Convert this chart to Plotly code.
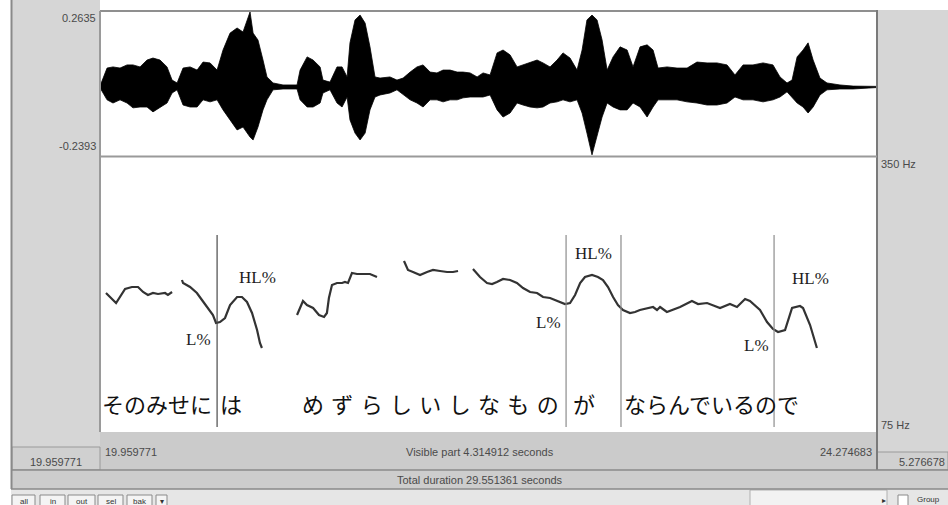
import plotly.graph_objects as go

W, H = 948, 505

# Time window and axis ranges
T_START, T_END = 19.959771, 24.274683
AMP_MIN, AMP_MAX = -0.2393, 0.2635
HZ_MIN, HZ_MAX = 75, 350

# Waveform envelope (seconds, upper / lower amplitude)
wave_t = [19.960, 19.999, 20.032, 20.071, 20.110, 20.143, 20.182, 20.221, 20.254, 20.293,
          20.332, 20.360, 20.388, 20.421, 20.460, 20.499, 20.532, 20.571, 20.610, 20.643,
          20.682, 20.721, 20.754, 20.793, 20.810, 20.837, 20.865, 20.887, 20.921, 20.976,
          21.054, 21.071, 21.110, 21.143, 21.182, 21.198, 21.237, 21.276, 21.304, 21.332,
          21.348, 21.376, 21.404, 21.432, 21.459, 21.487, 21.515, 21.570, 21.609, 21.643,
          21.682, 21.720, 21.754, 21.793, 21.831, 21.865, 21.904, 21.943, 21.976, 22.015,
          22.054, 22.087, 22.126, 22.165, 22.198, 22.237, 22.276, 22.309, 22.348, 22.387,
          22.420, 22.459, 22.498, 22.531, 22.570, 22.609, 22.637, 22.664, 22.692, 22.720,
          22.748, 22.776, 22.809, 22.848, 22.887, 22.920, 22.959, 22.998, 23.031, 23.059,
          23.109, 23.164, 23.220, 23.275, 23.331, 23.386, 23.442, 23.486, 23.531, 23.586,
          23.642, 23.697, 23.736, 23.775, 23.803, 23.831, 23.864, 23.892, 23.920, 23.958,
          23.997, 24.069, 24.142, 24.253, 24.274]
wave_hi = [0.003, 0.066, 0.070, 0.066, 0.077, 0.077, 0.070, 0.094, 0.101, 0.094,
           0.070, 0.024, 0.014, 0.066, 0.070, 0.059, 0.087, 0.084, 0.059, 0.129,
           0.188, 0.206, 0.192, 0.262, 0.188, 0.164, 0.094, 0.035, 0.014, 0.007,
           0.007, 0.059, 0.105, 0.094, 0.070, 0.024, 0.017, 0.070, 0.070, 0.035,
           0.154, 0.234, 0.251, 0.223, 0.140, 0.035, 0.031, 0.035, 0.024, 0.031,
           0.052, 0.070, 0.077, 0.052, 0.049, 0.059, 0.059, 0.052, 0.052, 0.049,
           0.035, 0.049, 0.042, 0.119, 0.129, 0.112, 0.070, 0.077, 0.087, 0.094,
           0.084, 0.070, 0.094, 0.119, 0.101, 0.059, 0.129, 0.234, 0.251, 0.234,
           0.164, 0.059, 0.105, 0.140, 0.129, 0.070, 0.140, 0.147, 0.129, 0.066,
           0.070, 0.066, 0.066, 0.087, 0.084, 0.084, 0.077, 0.042, 0.077, 0.077,
           0.084, 0.077, 0.035, 0.014, 0.024, 0.105, 0.129, 0.154, 0.094, 0.031,
           0.014, 0.007, 0.003, 0.003, 0.002]
wave_lo = [-0.003, -0.045, -0.056, -0.045, -0.056, -0.073, -0.070, -0.070, -0.087, -0.073,
           -0.056, -0.021, -0.010, -0.063, -0.070, -0.070, -0.045, -0.052, -0.045, -0.080,
           -0.115, -0.150, -0.140, -0.175, -0.185, -0.140, -0.080, -0.045, -0.010, -0.007,
           -0.007, -0.045, -0.070, -0.070, -0.056, -0.021, -0.010, -0.056, -0.070, -0.035,
           -0.115, -0.161, -0.185, -0.161, -0.080, -0.035, -0.028, -0.021, -0.010, -0.028,
           -0.045, -0.056, -0.070, -0.045, -0.045, -0.052, -0.045, -0.045, -0.038, -0.035,
           -0.035, -0.035, -0.028, -0.080, -0.105, -0.091, -0.056, -0.063, -0.070, -0.073,
           -0.070, -0.056, -0.052, -0.045, -0.052, -0.045, -0.091, -0.161, -0.237, -0.175,
           -0.105, -0.056, -0.070, -0.080, -0.080, -0.056, -0.070, -0.105, -0.070, -0.045,
           -0.045, -0.045, -0.052, -0.056, -0.063, -0.063, -0.056, -0.035, -0.045, -0.045,
           -0.052, -0.045, -0.035, -0.017, -0.035, -0.056, -0.070, -0.091, -0.070, -0.028,
           -0.010, -0.007, -0.007, -0.003, -0.002]

# Pitch contour (seconds, Hz), one list per voiced stretch
pitch1_t = [19.993, 20.049, 20.099, 20.137, 20.171, 20.199, 20.226, 20.254, 20.282, 20.321, 20.337, 20.360]
pitch1_hz = [214, 204, 218, 220, 220, 215, 212, 214, 213, 214, 212, 215]

pitch2_t = [20.415, 20.421, 20.460, 20.498, 20.526, 20.560, 20.587, 20.604, 20.626, 20.654,
            20.682, 20.721, 20.748, 20.776, 20.804, 20.832, 20.848, 20.859]
pitch2_hz = [227, 224, 220, 214, 207, 199, 192, 184, 185, 189, 202, 210, 210, 205, 194, 177, 164, 159]

pitch3_t = [21.054, 21.087, 21.109, 21.143, 21.176, 21.204, 21.220, 21.231, 21.248, 21.276,
            21.304, 21.320, 21.337, 21.359, 21.387, 21.420, 21.459, 21.498]
pitch3_hz = [192, 206, 202, 199, 192, 190, 194, 209, 222, 224, 224, 225, 224, 234, 233, 233, 233, 230]

pitch4_t = [21.648, 21.670, 21.698, 21.737, 21.776, 21.809, 21.848, 21.887, 21.920, 21.948]
pitch4_hz = [246, 237, 235, 232, 235, 237, 236, 235, 235, 236]

pitch5_t = [22.031, 22.070, 22.109, 22.137, 22.164, 22.198, 22.237, 22.275, 22.309, 22.348,
            22.387, 22.420, 22.459, 22.498, 22.542, 22.570, 22.598, 22.626, 22.653, 22.692,
            22.725, 22.753, 22.781, 22.809, 22.836, 22.864, 22.903, 22.931, 22.958, 23.031,
            23.053, 23.070, 23.108, 23.181, 23.247, 23.281, 23.331, 23.403, 23.458, 23.497,
            23.542, 23.569, 23.625, 23.664, 23.697, 23.725, 23.764, 23.803, 23.819, 23.847,
            23.864, 23.903, 23.941]
pitch5_hz = [238, 230, 224, 223, 225, 228, 227, 224, 219, 215,
             214, 210, 209, 206, 203, 204, 212, 224, 230, 232,
             230, 227, 220, 210, 202, 197, 194, 195, 197, 200,
             197, 200, 195, 200, 206, 203, 204, 199, 203, 200,
             208, 206, 197, 185, 178, 175, 177, 199, 200, 201,
             199, 182, 159]

# Interval boundaries on the annotation tier (seconds)
boundary_t = [20.610, 22.548, 22.853, 23.703]

# Boundary tone labels
tone_text = ["L%", "HL%", "L%", "HL%", "L%", "HL%"]
tone_t = [20.504, 20.832, 22.453, 22.698, 23.603, 23.903]
tone_hz = [168, 230, 185, 254, 162, 229]

# Text tier intervals (start time, text)
word_text = ["そのみせに", "は", "め\u2004ず\u2004ら\u2004し\u2004い\u2004し\u2004な\u2004も\u2004の",
             "が", "ならんでいるの", "で"]
word_t = [19.962, 20.616, 21.071, 22.573, 22.857, 23.708]


def px(x):
    return x / W


def py(y):
    return 1 - y / H


def rect(x0, y0, x1, y1, fill, line=None, lw=0):
    return dict(type="rect", xref="paper", yref="paper", layer="below",
                x0=px(x0), x1=px(x1), y0=py(y1), y1=py(y0),
                fillcolor=fill, line=dict(width=lw, color=line or fill))


def hline(x0, x1, y, color, w=1):
    return dict(type="line", xref="paper", yref="paper", layer="above",
                x0=px(x0), x1=px(x1), y0=py(y), y1=py(y), line=dict(color=color, width=w))


def vline(x, y0, y1, color, w=1):
    return dict(type="line", xref="paper", yref="paper", layer="above",
                x0=px(x), x1=px(x), y0=py(y0), y1=py(y1), line=dict(color=color, width=w))


def label(x, y, text, size=11, anchor="left", color="#4a4a4a", family="Liberation Sans"):
    return dict(xref="paper", yref="paper", x=px(x), y=py(y), text=text, showarrow=False,
                xanchor=anchor, yanchor="middle", font=dict(size=size, color=color, family=family))


fig = go.Figure()

# Waveform as a filled envelope
fig.add_trace(go.Scatter(
    x=wave_t + wave_t[::-1], y=wave_hi + wave_lo[::-1],
    fill="toself", fillcolor="#000000", mode="lines",
    line=dict(color="#000000", width=0.8), xaxis="x", yaxis="y", hoverinfo="skip"))

# Pitch contour
for t, hz in [(pitch1_t, pitch1_hz), (pitch2_t, pitch2_hz), (pitch3_t, pitch3_hz),
              (pitch4_t, pitch4_hz), (pitch5_t, pitch5_hz)]:
    fig.add_trace(go.Scatter(x=t, y=hz, mode="lines", xaxis="x", yaxis="y2",
                             line=dict(color="#333333", width=2.2), hoverinfo="skip"))

shapes = [
    # window chrome
    rect(11, 0, 100, 470, "#d6d6d6"),
    rect(877, 10, 948, 470, "#d6d6d6"),
    rect(100, 432, 877, 470, "#cbcbcb"),
    rect(12, 447, 100, 470, "#d0d0d0", "#9a9a9a", 1),
    rect(877, 452, 948, 470, "#d0d0d0", "#9a9a9a", 1),
    rect(11, 470, 948, 489, "#cdcdcd"),
    rect(11, 489, 948, 505, "#e6e6e6"),
    rect(100, 11, 877, 432, "#ffffff"),
    vline(11.5, 0, 489, "#8a8a8a", 2),
    hline(100, 877, 11, "#8f8f8f", 2),
    vline(100, 11, 432, "#9a9a9a", 2),
    vline(877, 10, 470, "#7a7a7a", 2),
    hline(100, 877, 156.5, "#9a9a9a", 2),
    hline(11, 948, 470, "#8a8a8a", 1.5),
    hline(11, 948, 489, "#8a8a8a", 1.5),
]

# Buttons along the bottom edge
for bx0, bx1 in [(12, 35), (40, 65), (68, 95), (98, 123), (127, 152), (156, 167)]:
    shapes.append(rect(bx0, 495, bx1, 506, "#f4f4f4", "#8a8a8a", 1))
shapes.append(rect(750, 490, 887, 506, "#f2f2f2", "#b0b0b0", 1))
shapes.append(rect(898, 495, 908, 506, "#ffffff", "#8a8a8a", 1))

# Tier boundaries in the pitch / text area
for i, bt in enumerate(boundary_t):
    shapes.append(dict(type="line", xref="x", yref="y2", x0=bt, x1=bt, y0=80, y1=272,
                       line=dict(color="#4a4a4a" if i == 0 else "#8c8c8c", width=1.2),
                       layer="above"))

annotations = [
    label(98, 18, "0.2635", anchor="right"),
    label(98, 146, "-0.2393", anchor="right"),
    label(879, 164, "350 Hz"),
    label(879, 425, "75 Hz"),
    label(103, 452, "19.959771"),
    label(480, 452, "Visible part 4.314912 seconds", anchor="center"),
    label(874, 452, "24.274683", anchor="right"),
    label(56, 462, "19.959771", anchor="center"),
    label(947, 462, "5.276678", anchor="right"),
    label(480, 480, "Total duration 29.551361 seconds", anchor="center"),
]
for text, cx in [("all", 23.5), ("in", 52.5), ("out", 81.5), ("sel", 110.5), ("bak", 139.5), ("▾", 161.5)]:
    annotations.append(label(cx, 501, text, size=8, anchor="center", color="#333"))
annotations.append(label(884, 500, "▸", size=8, anchor="center", color="#333"))
annotations.append(label(928, 499, "Group", size=8, anchor="center", color="#333"))

for txt, t, hz in zip(tone_text, tone_t, tone_hz):
    annotations.append(dict(xref="x", yref="y2", x=t, y=hz, text=txt, showarrow=False,
                            xanchor="center", yanchor="middle",
                            font=dict(family="Liberation Serif", size=17, color="#1e1e1e")))

for txt, t in zip(word_text, word_t):
    annotations.append(dict(xref="x", yref="y2", x=t, y=104, text=txt, showarrow=False,
                            xanchor="left", yanchor="middle",
                            font=dict(family="Noto Sans CJK JP", size=22, color="#111111")))

fig.update_layout(
    width=W, height=H, margin=dict(l=0, r=0, t=0, b=0),
    paper_bgcolor="#ffffff", plot_bgcolor="rgba(0,0,0,0)",
    showlegend=False,
    xaxis=dict(domain=[px(100), px(877)], range=[T_START, T_END], visible=False, anchor="y"),
    yaxis=dict(domain=[py(155.5), py(11.5)], range=[AMP_MIN, AMP_MAX], visible=False, anchor="x"),
    yaxis2=dict(domain=[py(432), py(157)], range=[HZ_MIN, HZ_MAX], visible=False, anchor="x"),
    shapes=shapes, annotations=annotations,
)

fig.write_html("out.html")
